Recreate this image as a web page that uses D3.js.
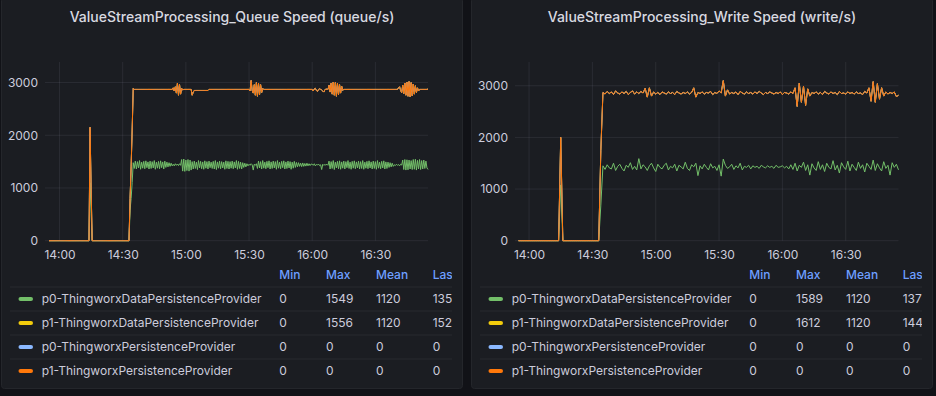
<!DOCTYPE html>
<html>
<head>
<meta charset="utf-8">
<script src="https://cdn.jsdelivr.net/npm/d3@7"></script>
<style>
  body { margin: 0; background: #111217; }
  svg { display: block; font-family: Inter, 'Noto Sans', sans-serif; }
</style>
</head>
<body>
<svg id="chart" width="936" height="396"></svg>
<script>
// both panels cover 13:55 -> 16:55
const startTime = new Date(2023, 0, 1, 13, 55);
const endTime = new Date(2023, 0, 1, 16, 55);
const queueStepSeconds = 30;   // 361 samples
const writeStepSeconds = 60;   // 181 samples

const seriesNames = [
  'p0-ThingworxDataPersistenceProvider',
  'p1-ThingworxDataPersistenceProvider',
  'p0-ThingworxPersistenceProvider',
  'p1-ThingworxPersistenceProvider'
];
const seriesColors = ['#73bf69', '#f2cc0c', '#8ab8ff', '#ff780a'];
const statHeaders = ['Min', 'Max', 'Mean', 'Last'];
const yTicks = [0, 1000, 2000, 3000];

// Queue speed (30 s samples)
const queueP0 = [
  0,0,0,0,0,0,0,0,0,0,0,0,0,0,0,0,0,0,0,0,0,0,0,0,0,0,0,0,0,0,0,0,0,0,0,0,0,0,0,
  1100,520,
  0,0,0,0,0,0,0,0,0,0,0,0,0,0,0,0,0,0,0,0,0,0,0,0,0,0,0,0,0,0,0,0,0,0,0,0,
  580,800,1100,1480,
  1370,1510,1360,1500,1380,1520,1355,1490,1375,1505,1365,1515,1385,1495,1360,1510,1370,1500,1380,1520,1355,1490,1375,1505,1365,1515,1385,1495,1360,1510,1390,1490,1400,1480,1410,1470,1420,
  1450,1420,1460,1430,1455,1425,1460,1430,
  1540,1320,1549,1315,1530,1330,1540,1320,1530,1340,
  1500,1360,1510,1370,1490,1350,1520,1380,1505,1365,1495,1355,1515,1375,1500,1360,1510,1385,1490,1370,1505,1360,1520,1350,1495,1375,1510,1365,1500,1380,1490,1355,1515,1370,1505,1360,1500,1375,1510,1365,1495,1380,1520,1355,1505,1370,1490,1360,1480,1390,1470,1400,1460,1420,
  1450,1430,1460,1440,1340,1450,1430,1460,
  1370,1510,1380,1500,1360,1520,1375,1490,1365,1505,1385,1515,1360,1495,1370,1510,1380,1500,1355,1520,1375,1490,1365,1505,1385,1515,1360,1495,1370,1510,1380,1500,1355,1490,1375,1505,1390,1485,1400,1480,
  1410,1470,1405,1475,1410,1465,1415,1470,1420,1460,1425,1455,
  1450,1430,1460,1420,1445,1435,1455,1425,1440,1350,1450,1430,1445,1435,1450,1430,
  1510,1360,1500,1370,1520,1350,1490,1380,1505,1365,1515,1355,1495,1375,1510,1360,1500,1385,1520,1370,1490,1355,1505,1375,1515,1365,1495,1380,1510,1360,1500,1370,1520,1355,1490,1375,1505,1365,1515,1380,1495,1360,1510,1370,1500,1355,1520,1375,1490,1365,1505,1380,1515,1360,1495,1370,1490,1390,1480,1400,1470,1410,
  1440,1425,1450,1430,1445,1420,1450,1435,
  1530,1350,1540,1340,1535,1345,1530,1360,1520,1350,1540,1355,1545,1340,1525,1360,1540,1350,1520,1360,1530,1370,1510,1380,1352
];
const queueP1 = [
  0,0,0,0,0,0,0,0,0,0,0,0,0,0,0,0,0,0,0,0,0,0,0,0,0,0,0,0,0,0,0,0,0,0,0,0,0,0,0,
  1050,480,
  0,0,0,0,0,0,0,0,0,0,0,0,0,0,0,0,0,0,0,0,0,0,0,0,0,0,0,0,0,0,0,0,0,0,0,0,
  220,600,1000,1410,
  1500,1360,1510,1370,1490,1350,1515,1380,1495,1365,1505,1355,1485,1375,1510,1360,1500,1370,1490,1350,1515,1380,1495,1365,1505,1355,1485,1375,1510,1360,1480,1380,1470,1390,1460,1400,1450,
  1450,1420,1460,1370,1535,1335,1500,1350,
  1350,1540,1321,1555,1340,1540,1330,1550,1340,1530,
  1260,1460,1340,1480,1360,1500,1330,1470,1345,1485,1355,1495,1335,1475,1350,1490,1360,1485,1380,1500,1365,1510,1350,1520,1375,1495,1360,1505,1370,1490,1380,1515,1355,1500,1365,1510,1370,1495,1360,1505,1375,1490,1350,1515,1365,1500,1380,1510,1390,1480,1400,1470,1410,1450,
  1420,1410,1580,1410,1460,1510,1330,1540,
  1370,1480,1390,1460,1450,1370,1495,1380,1505,1365,1485,1355,1510,1375,1500,1360,1490,1370,1515,1350,1495,1380,1505,1365,1485,1355,1510,1375,1500,1360,1490,1370,1515,1380,1495,1365,1480,1385,1470,1390,
  1460,1400,1465,1395,1460,1405,1455,1400,1450,1410,1445,1415,
  1420,1410,1420,1470,1405,1395,1415,1455,1430,1510,1390,1390,1415,1445,1420,1440,
  1440,1460,1490,1410,1490,1410,1510,1360,1485,1405,1445,1445,1435,1475,1360,1510,1370,1485,1350,1500,1380,1515,1365,1495,1355,1505,1375,1490,1360,1510,1370,1500,1350,1515,1380,1495,1365,1505,1355,1490,1375,1510,1360,1500,1370,1515,1350,1495,1380,1505,1365,1490,1355,1510,1375,1500,1380,1480,1390,1470,1400,1460,
  1430,1445,1420,1440,1455,1500,1400,1375,
  1420,1440,1450,1420,1475,1395,1490,1370,1480,1400,1430,1425,1395,1470,1375,1480,1330,1520,1350,1510,1340,1500,1360,1490,1524
];
// ThingworxPersistenceProvider series read 0 everywhere
const queueZero = [
  0,0,0,0,0,0,0,0,0,0,0,0,0,0,0,0,0,0,0,0,0,0,0,0,0,0,0,0,0,0,0,0,0,0,0,0,0,0,0,0,
  0,0,0,0,0,0,0,0,0,0,0,0,0,0,0,0,0,0,0,0,0,0,0,0,0,0,0,0,0,0,0,0,0,0,0,0,0,0,0,0,
  0,0,0,0,0,0,0,0,0,0,0,0,0,0,0,0,0,0,0,0,0,0,0,0,0,0,0,0,0,0,0,0,0,0,0,0,0,0,0,0,
  0,0,0,0,0,0,0,0,0,0,0,0,0,0,0,0,0,0,0,0,0,0,0,0,0,0,0,0,0,0,0,0,0,0,0,0,0,0,0,0,
  0,0,0,0,0,0,0,0,0,0,0,0,0,0,0,0,0,0,0,0,0,0,0,0,0,0,0,0,0,0,0,0,0,0,0,0,0,0,0,0,
  0,0,0,0,0,0,0,0,0,0,0,0,0,0,0,0,0,0,0,0,0,0,0,0,0,0,0,0,0,0,0,0,0,0,0,0,0,0,0,0,
  0,0,0,0,0,0,0,0,0,0,0,0,0,0,0,0,0,0,0,0,0,0,0,0,0,0,0,0,0,0,0,0,0,0,0,0,0,0,0,0,
  0,0,0,0,0,0,0,0,0,0,0,0,0,0,0,0,0,0,0,0,0,0,0,0,0,0,0,0,0,0,0,0,0,0,0,0,0,0,0,0,
  0,0,0,0,0,0,0,0,0,0,0,0,0,0,0,0,0,0,0,0,0,0,0,0,0,0,0,0,0,0,0,0,0,0,0,0,0,0,0,0,
  0
];

// Write speed (60 s samples)
const writeP0 = [
  0,0,0,0,0,0,0,0,0,0,0,0,0,0,0,0,0,0,0,0,
  1080,
  0,0,0,0,0,0,0,0,0,0,0,0,0,0,0,0,0,0,
  690,
  1450,1380,1470,1410,1390,1500,1360,1440,1480,1400,
  1350,1460,1420,1510,1380,1440,1370,1589,1390,1470,
  1430,1360,1450,1500,1410,1340,1480,1420,1390,1460,
  1500,1370,1440,1410,1480,1350,1460,1430,1390,1520,
  1400,1360,1470,1430,1500,1260,1450,1390,1480,1420,
  1370,1490,1410,1440,1360,1470,1250,1580,1460,1400,
  1430,1480,1380,1450,1410,1500,1370,1440,1420,1460,
  1390,1450,1420,1440,1400,1460,1430,1410,1450,1420,
  1440,1400,1460,1420,1430,1450,1410,1440,1390,1470,
  1380,1500,1350,1460,1420,1520,1360,1470,1270,1490,
  1410,1360,1530,1380,1470,1340,1500,1420,1390,1550,
  1370,1460,1310,1510,1430,1380,1540,1350,1480,1420,
  1360,1520,1400,1470,1330,1500,1440,1380,1560,1360,
  1490,1410,1350,1530,1400,1460,1270,1510,1420,1480,
  1372
];
const writeP1 = [
  0,0,0,0,0,0,0,0,0,0,0,0,0,0,0,0,0,0,0,0,
  920,
  0,0,0,0,0,0,0,0,0,0,0,0,0,0,0,0,0,0,
  1060,
  1420,1460,1420,1440,1490,1330,1540,1420,1360,1480,
  1500,1430,1410,1360,1520,1400,1510,1261,1500,1390,
  1520,1420,1510,1300,1470,1500,1390,1410,1490,1400,
  1340,1510,1410,1460,1350,1540,1400,1410,1480,1330,
  1480,1480,1400,1530,1280,1610,1400,1490,1360,1450,
  1490,1400,1420,1430,1490,1430,1610,1520,1340,1520,
  1410,1390,1470,1430,1420,1390,1490,1400,1460,1390,
  1480,1390,1460,1410,1490,1400,1400,1460,1400,1460,
  1420,1440,1410,1430,1450,1380,1460,1420,1450,1410,
  1470,1460,1250,1590,1260,1470,1260,1470,1530,1380,
  1440,1520,1310,1490,1360,1550,1360,1420,1490,1300,
  1500,1370,1580,1340,1430,1460,1340,1500,1390,1420,
  1520,1330,1460,1360,1560,1360,1520,1320,1520,1320,
  1550,1330,1612,1270,1480,1380,1600,1340,1460,1310,
  1444
];
const writeZero = [
  0,0,0,0,0,0,0,0,0,0,0,0,0,0,0,0,0,0,0,0,
  0,0,0,0,0,0,0,0,0,0,0,0,0,0,0,0,0,0,0,0,
  0,0,0,0,0,0,0,0,0,0,0,0,0,0,0,0,0,0,0,0,
  0,0,0,0,0,0,0,0,0,0,0,0,0,0,0,0,0,0,0,0,
  0,0,0,0,0,0,0,0,0,0,0,0,0,0,0,0,0,0,0,0,
  0,0,0,0,0,0,0,0,0,0,0,0,0,0,0,0,0,0,0,0,
  0,0,0,0,0,0,0,0,0,0,0,0,0,0,0,0,0,0,0,0,
  0,0,0,0,0,0,0,0,0,0,0,0,0,0,0,0,0,0,0,0,
  0,0,0,0,0,0,0,0,0,0,0,0,0,0,0,0,0,0,0,0,
  0
];

const queueStats = [['0', '1549', '1120', '1352'], ['0', '1556', '1120', '1524'], ['0', '0', '0', '0'], ['0', '0', '0', '0']];
const writeStats = [['0', '1589', '1120', '1372'], ['0', '1612', '1120', '1444'], ['0', '0', '0', '0'], ['0', '0', '0', '0']];

const queueTimes = queueP0.map((d, i) => d3.timeSecond.offset(startTime, i * queueStepSeconds));
const writeTimes = writeP0.map((d, i) => d3.timeSecond.offset(startTime, i * writeStepSeconds));

const panels = [
  { offset: 0, title: 'ValueStreamProcessing_Queue Speed (queue/s)', times: queueTimes, series: [queueP0, queueP1, queueZero, queueZero], stats: queueStats, yMax: 3390, xRange: [49, 428] },
  { offset: 470, title: 'ValueStreamProcessing_Write Speed (write/s)', times: writeTimes, series: [writeP0, writeP1, writeZero, writeZero], stats: writeStats, yMax: 3460, xRange: [48.5, 428.5] }
];

const textColor = '#ccccdc';
const gridColor = 'rgba(204,204,220,0.09)';
const plotTop = 62;
const plotBottom = 240.7;

const svg = d3.select('#chart');
svg.append('rect').attr('width', 936).attr('height', 396).attr('fill', '#111217');
const defs = svg.append('defs');

panels.forEach((p, k) => drawPanel(p, k));

function drawPanel(p, k) {
  const g = svg.append('g').attr('transform', `translate(${p.offset},0)`);

  g.append('rect')
    .attr('x', 1.5).attr('y', -2.5)
    .attr('width', 461).attr('height', 391)
    .attr('rx', 3)
    .attr('fill', '#1b1d22')
    .attr('stroke', '#24262b');

  g.append('text')
    .attr('x', 232)
    .attr('y', 22)
    .attr('text-anchor', 'middle')
    .attr('fill', '#d8d9e0')
    .attr('font-size', 14)
    .attr('font-weight', 500)
    .text(p.title);

  const x = d3.scaleTime().domain([startTime, endTime]).range(p.xRange);
  const y = d3.scaleLinear().domain([0, p.yMax]).range([plotBottom, plotTop]);
  const xTicks = x.ticks(d3.timeMinute.every(30));

  // grid
  g.append('g')
    .selectAll('line')
    .data(xTicks)
    .join('line')
    .attr('x1', d => x(d)).attr('x2', d => x(d))
    .attr('y1', plotTop).attr('y2', plotBottom)
    .attr('stroke', gridColor);

  g.append('g')
    .selectAll('line')
    .data(yTicks)
    .join('line')
    .attr('x1', 45).attr('x2', p.xRange[1])
    .attr('y1', d => y(d)).attr('y2', d => y(d))
    .attr('stroke', gridColor);

  // axes
  const xAxis = g.append('g')
    .attr('transform', `translate(0,${plotBottom})`)
    .call(d3.axisBottom(x).tickValues(xTicks).tickFormat(d3.timeFormat('%H:%M')).tickSize(0).tickPadding(10));
  xAxis.select('.domain').remove();
  xAxis.attr('font-family', null).attr('font-size', 12);
  xAxis.selectAll('text').attr('fill', textColor);

  const yAxis = g.append('g')
    .attr('transform', 'translate(38,0)')
    .call(d3.axisLeft(y).tickValues(yTicks).tickFormat(d3.format('d')).tickSize(0).tickPadding(0));
  yAxis.select('.domain').remove();
  yAxis.attr('font-family', null).attr('font-size', 12);
  yAxis.selectAll('text').attr('fill', textColor);

  // stacked lines, drawn in legend order so the last series sits on top
  const keys = seriesNames.map((d, i) => 's' + i);
  const rows = p.times.map((t, i) => {
    const row = { time: t };
    keys.forEach((key, s) => { row[key] = p.series[s][i]; });
    return row;
  });
  const layers = d3.stack().keys(keys)(rows);

  const line = d3.line()
    .x(d => x(d.data.time))
    .y(d => y(d[1]));

  g.append('g')
    .selectAll('path')
    .data(layers)
    .join('path')
    .attr('d', line)
    .attr('fill', 'none')
    .attr('stroke', (d, i) => seriesColors[i])
    .attr('stroke-width', 1)
    .attr('stroke-linejoin', 'round');

  // legend table (cut at the panel edge like the original)
  defs.append('clipPath')
    .attr('id', 'legend-clip-' + k)
    .append('rect')
    .attr('x', 0).attr('y', 260)
    .attr('width', 452).attr('height', 130);

  const table = g.append('g').attr('clip-path', `url(#legend-clip-${k})`);
  const colX = [279.3, 326, 376, 432.7];

  table.selectAll('.head')
    .data(statHeaders)
    .join('text')
    .attr('class', 'head')
    .attr('x', (d, i) => colX[i])
    .attr('y', 275)
    .attr('dy', '0.35em')
    .attr('font-size', 12)
    .attr('font-weight', 500)
    .attr('fill', '#6e9fff')
    .text(d => d);

  const row = table.selectAll('.row')
    .data(seriesNames)
    .join('g')
    .attr('class', 'row')
    .attr('transform', (d, i) => `translate(0,${299 + i * 24})`);

  row.append('line')
    .attr('x1', 10).attr('x2', 462)
    .attr('y1', -12).attr('y2', -12)
    .attr('stroke', 'rgba(204,204,220,0.08)');

  row.append('rect')
    .attr('x', 18.5).attr('y', -2)
    .attr('width', 14.5).attr('height', 4)
    .attr('rx', 2)
    .attr('fill', (d, i) => seriesColors[i]);

  row.append('text')
    .attr('x', 41.7)
    .attr('dy', '0.35em')
    .attr('font-size', 12)
    .attr('fill', textColor)
    .text(d => d);

  row.each(function (d, i) {
    d3.select(this)
      .selectAll('.val')
      .data(p.stats[i])
      .join('text')
      .attr('class', 'val')
      .attr('x', (v, j) => colX[j])
      .attr('dy', '0.35em')
      .attr('font-size', 12)
      .attr('fill', textColor)
      .text(v => v);
  });
}
</script>
</body>
</html>
